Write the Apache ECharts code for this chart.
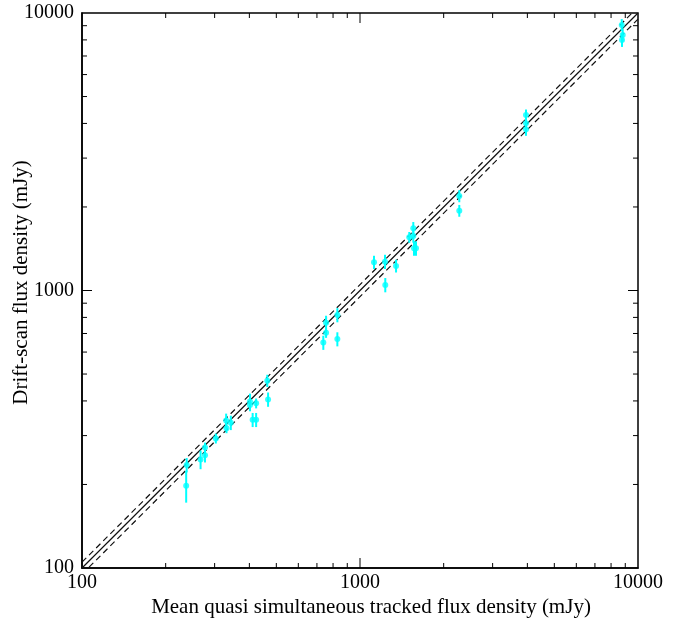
<!DOCTYPE html>
<html><head><meta charset="utf-8">
<script src="https://cdn.jsdelivr.net/npm/echarts@6/dist/echarts.min.js"></script>
<style>html,body{margin:0;padding:0;background:#fff}#c{width:681px;height:622px}</style>
</head><body><div id="c"></div>
<script>
// Mean quasi simultaneous tracked flux density (mJy)
const trackedFlux = [237, 238, 267, 277, 277, 303, 330, 331, 343, 402, 402, 411, 423, 423, 464, 467,
  755, 755, 738, 829, 829, 1123, 1230, 1348, 1233, 1555, 1504, 1555, 1564, 1590, 2276, 2276,
  3955, 3955, 3955, 8740, 8810, 8760];
// Drift-scan flux density (mJy)
const driftFlux = [198, 235, 246, 255, 272, 293, 340, 319, 334, 398, 387, 342, 342, 392, 473, 405,
  766, 705, 649, 816, 668, 1264, 1270, 1226, 1047, 1675, 1555, 1572, 1419, 1419, 2190, 1939,
  4290, 4004, 3809, 9055, 8333, 7995];
// Drift-scan flux uncertainty (mJy)
const driftErr = [26, 14, 19, 15, 11, 12, 20, 13, 20, 27, 20, 20, 20, 16, 24, 24,
  45, 30, 38, 48, 39, 70, 75, 65, 62, 90, 70, 85, 85, 85, 110, 95,
  200, 200, 200, 450, 450, 450];
const tickLabels = ['100', '1000', '10000'];
const minorTicks = [200, 300, 400, 500, 600, 700, 800, 900, 2000, 3000, 4000, 5000, 6000, 7000, 8000, 9000];
const majorTicks = [1000];
const unityLine = [[100, 100], [10000, 10000]];
const upperLine = [[100, 105], [10000, 10500]];
const lowerLine = [[100, 95], [10000, 9500]];

const FONT = 'Liberation Serif';
const chart = echarts.init(document.getElementById('c'), null, {renderer: 'canvas'});

const pts = trackedFlux.map((x, i) => [x, driftFlux[i], driftErr[i]]);
const tickData = minorTicks.map(v => [v, 5]).concat(majorTicks.map(v => [v, 10]));

function axisCfg(name, gap, pos, pad) {
  return {
    type: 'log', logBase: 10, min: 100, max: 10000, splitNumber: 2, position: pos,
    name: name, nameLocation: 'middle', nameGap: gap, nameMoveOverlap: false,
    nameTextStyle: {fontFamily: FONT, fontSize: 21, color: '#000', padding: pad},
    axisLine: {show: true, lineStyle: {color: '#000', width: 1.5}},
    axisTick: {show: false}, splitLine: {show: false}, minorTick: {show: false},
    axisLabel: {fontFamily: FONT, fontSize: 20, color: '#000', margin: pos === 'left' ? 8 : 5,
      formatter: v => tickLabels.find(t => Math.abs(+t - v) / v < 1e-6) || ''}
  };
}

chart.setOption({
  animation: false,
  backgroundColor: '#fff',
  grid: {left: 82, top: 13, width: 556, height: 555, outerBoundsMode: 'none', containLabel: false,
    show: true, borderColor: '#000', borderWidth: 1.5, backgroundColor: 'transparent'},
  xAxis: axisCfg('Mean quasi simultaneous tracked flux density (mJy)', 29, 'bottom', [0, 0, 0, 22]),
  yAxis: axisCfg('Drift-scan flux density (mJy)', 50, 'left', [0, 0, 0, 16]),
  series: [
    {type: 'line', data: unityLine, symbol: 'none', lineStyle: {color: '#111', width: 1.2}, clip: true, z: 2},
    {type: 'line', data: upperLine, symbol: 'none', lineStyle: {color: '#111', width: 1.2, type: [6, 4]}, clip: true, z: 2},
    {type: 'line', data: lowerLine, symbol: 'none', lineStyle: {color: '#111', width: 1.2, type: [6, 4]}, clip: true, z: 2},
    {
      type: 'custom', data: tickData, silent: true, clip: false, z: 5,
      renderItem: function (params, api) {
        const cs = params.coordSys;
        const v = api.value(0), len = api.value(1);
        const px = api.coord([v, 100])[0];
        const py = api.coord([100, v])[1];
        const st = {stroke: '#000', lineWidth: 1};
        const l = cs.x, r = cs.x + cs.width, t = cs.y, b = cs.y + cs.height;
        return {type: 'group', children: [
          {type: 'line', shape: {x1: px, y1: b, x2: px, y2: b - len}, style: st},
          {type: 'line', shape: {x1: px, y1: t, x2: px, y2: t + len}, style: st},
          {type: 'line', shape: {x1: l, y1: py, x2: l + len, y2: py}, style: st},
          {type: 'line', shape: {x1: r, y1: py, x2: r - len, y2: py}, style: st}
        ]};
      }
    },
    {
      type: 'custom', data: pts, z: 3,
      renderItem: function (params, api) {
        const x = api.value(0), y = api.value(1), e = api.value(2);
        const p1 = api.coord([x, y - e]);
        const p2 = api.coord([x, y + e]);
        return {type: 'line', shape: {x1: p1[0], y1: p1[1], x2: p2[0], y2: p2[1]},
          style: {stroke: '#00ffff', lineWidth: 2}};
      }
    },
    {type: 'scatter', data: pts.map(p => [p[0], p[1]]), symbol: 'circle', symbolSize: 6,
      itemStyle: {color: '#00ffff'}, z: 4}
  ]
});
</script></body></html>
